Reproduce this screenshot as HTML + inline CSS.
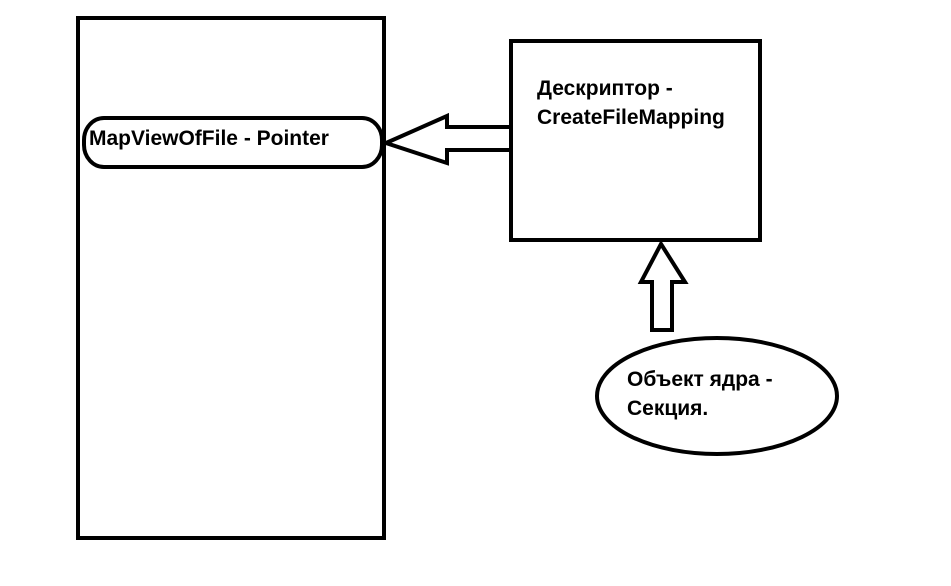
<!DOCTYPE html>
<html><head><meta charset="utf-8"><style>
html,body{margin:0;padding:0;background:#fff;}
svg text{font-family:"Liberation Sans","DejaVu Sans",sans-serif;font-weight:bold;font-size:21px;fill:#000;}
</style></head><body>
<svg width="951" height="581" viewBox="0 0 951 581" xmlns="http://www.w3.org/2000/svg">
<rect width="951" height="581" fill="#fff"/>
<rect x="78" y="18" width="306" height="520" fill="none" stroke="#000" stroke-width="4"/>
<rect x="511" y="41" width="249" height="199" fill="none" stroke="#000" stroke-width="4"/>
<rect x="84" y="118" width="298" height="49" rx="20" ry="22" fill="none" stroke="#000" stroke-width="4"/>
<polygon points="386,143 447,116 447,127 511,127 511,150 447,150 447,163" fill="#fff" stroke="#000" stroke-width="4" stroke-linejoin="miter"/>
<polygon points="661,244 685,282 672,282 672,330 652,330 652,282 641,282" fill="#fff" stroke="#000" stroke-width="4"/>
<ellipse cx="717" cy="396" rx="120" ry="58" fill="#fff" stroke="#000" stroke-width="4"/>
<text x="89" y="145">MapViewOfFile - Pointer</text>
<text x="537" y="95">Дескриптор -</text>
<text x="537" y="124">CreateFileMapping</text>
<text x="627" y="386">Объект ядра -</text>
<text x="627" y="415">Секция.</text>
</svg>
</body></html>
